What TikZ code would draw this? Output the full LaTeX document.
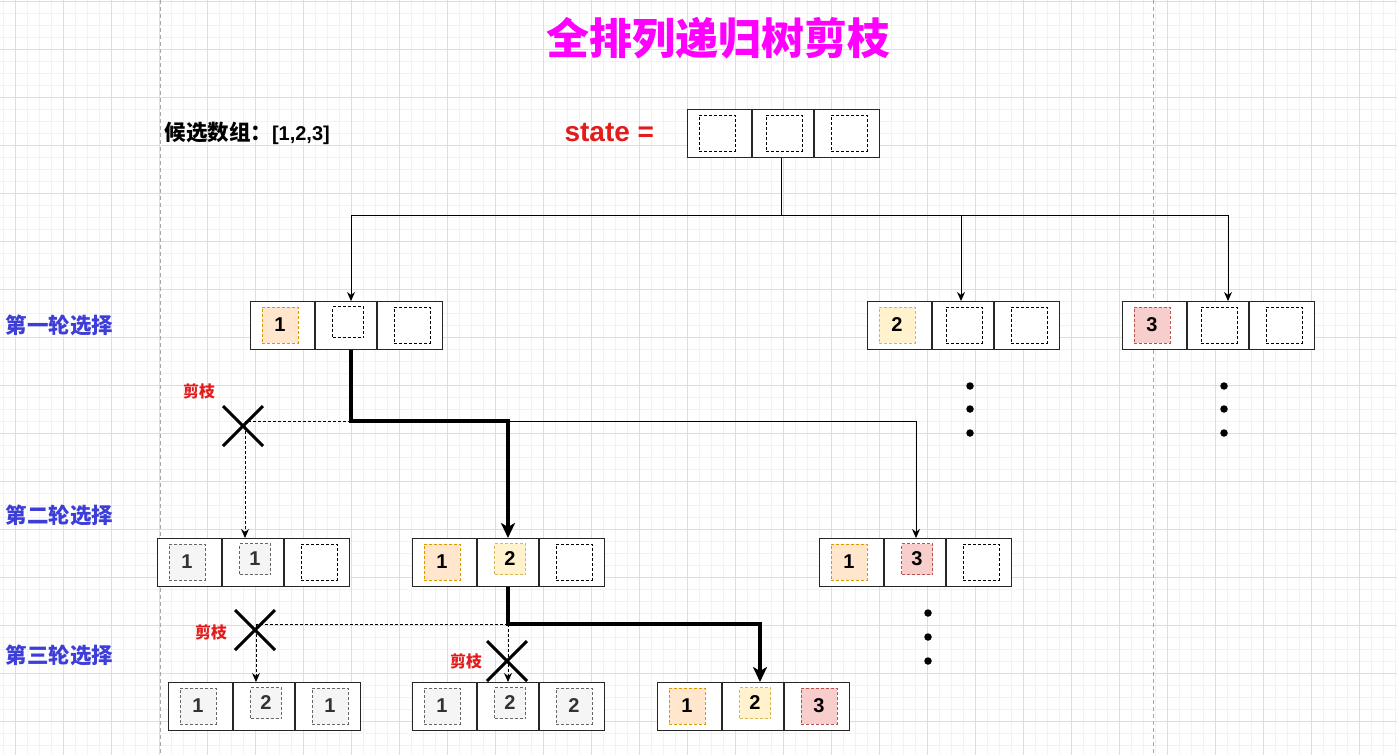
\documentclass[tikz,border=0pt]{standalone}
\usepackage{fontspec}
\setmainfont{Liberation Sans}
\newfontfamily\cjk{Noto Sans CJK SC}
\usetikzlibrary{arrows.meta,calc,shapes.misc}
\definecolor{oF}{HTML}{FFE6CC}\definecolor{oD}{HTML}{D79B00}
\definecolor{yF}{HTML}{FFF2CC}\definecolor{yD}{HTML}{D6B656}
\definecolor{rF}{HTML}{F8CECC}\definecolor{rD}{HTML}{B85450}
\definecolor{gF}{HTML}{F5F5F5}\definecolor{gD}{HTML}{666666}\definecolor{gT}{HTML}{333333}
\definecolor{titleM}{HTML}{FF00FF}
\definecolor{rowB}{HTML}{3D3DD8}
\definecolor{cutR}{HTML}{E31B1B}
\definecolor{gridMaj}{HTML}{DEDEDE}
\definecolor{gridMin}{HTML}{F2F2F2}
\definecolor{pageL}{HTML}{A8A8A8}
\tikzset{
 boxline/.style={line width=1.2pt, draw=black!85},
 outerbox/.style={boxline, minimum width=192pt, minimum height=48pt, inner sep=0pt, fill=white, anchor=north west},
 sq/.style={minimum size=36pt, inner sep=0pt, dash pattern=on 3pt off 2pt, line width=1pt, font=\fontsize{20}{20}\selectfont\bfseries},
 sqsmall/.style={minimum size=31pt},
 sqE/.style={draw=black},
 sqO/.style={draw=oD, fill=oF},
 sqY/.style={draw=yD, fill=yF},
 sqR/.style={draw=rD, fill=rF},
 sqG/.style={draw=gD, fill=gF, text=gT},
 conn/.style={line width=1pt, draw=black},
 dconn/.style={line width=1pt, draw=black, dash pattern=on 3pt off 2pt},
 tipS/.style={-{Stealth[length=9pt,width=8pt]}},
 thickp/.style={line width=3.2pt, draw=black, -{Stealth[length=15pt,width=14pt,inset=4pt]}},
 xmark/.style={cross out, draw=black, line width=3pt, minimum size=37pt, inner sep=0pt},
 rowlab/.style={font=\cjk\bfseries\fontsize{21.5}{21.5}\selectfont, text=rowB, anchor=west},
 cutlab/.style={font=\cjk\bfseries\fontsize{16}{16}\selectfont, text=cutR},
 dotm/.style={circle, fill=black, minimum size=7.5pt, inner sep=0pt},
}
\newcommand\tribox[3]{%
 \node[outerbox] (#1) at (#2,#3) {};
 \draw[boxline] ($(#1.north west)+(65,0)$) -- ($(#1.south west)+(65,0)$);
 \draw[boxline] ($(#1.north west)+(127,0)$) -- ($(#1.south west)+(127,0)$);
}
% cell squares: name, box, style, text
\newcommand\cA[4]{\node[sq,#3] (#1) at ($(#2.north west)+(30,24)$) {#4};}
\newcommand\cB[4]{\node[sq,#3] (#1) at ($(#2.north west)+(97,24)$) {#4};}
\newcommand\cBs[4]{\node[sq,sqsmall,#3] (#1) at ($(#2.north west)+(98,21)$) {#4};}
\newcommand\cC[4]{\node[sq,#3] (#1) at ($(#2.north west)+(162,24)$) {#4};}
\begin{document}
\begin{tikzpicture}[x=1pt,y=-1pt]
\useasboundingbox (0,0) rectangle (1397,755);
\fill[white] (0,0) rectangle (1397,755);
% grid
\foreach \i in {0,...,116} \draw[gridMin,line width=0.6pt] ({3.7+12*\i},0) -- ({3.7+12*\i},755);
\foreach \i in {0,...,63} \draw[gridMin,line width=0.6pt] (0,{1+12*\i}) -- (1397,{1+12*\i});
\foreach \i in {0,...,28} \draw[gridMaj,line width=0.8pt] ({15.7+48*\i},0) -- ({15.7+48*\i},755);
\foreach \i in {0,...,15} \draw[gridMaj,line width=0.8pt] (0,{1+48*\i}) -- (1397,{1+48*\i});
\draw[pageL,line width=0.8pt,dash pattern=on 4pt off 3pt] (160,0) -- (160,755);
\draw[pageL,line width=0.8pt,dash pattern=on 4pt off 3pt] (1153,0) -- (1153,755);

% texts
\node[font=\cjk\bfseries\fontsize{43}{43}\selectfont, text=titleM] (title) at (718,38) {全排列递归树剪枝};
\node[anchor=west, font=\bfseries\fontsize{20}{20}\selectfont] (cand) at (161,133) {{\cjk\fontsize{21.5}{21.5}\selectfont 候选数组：}[1,2,3]};
\node[anchor=west, font=\bfseries\fontsize{28}{28}\selectfont, text=cutR] (stlab) at (561,133) {state =};
\node[rowlab] (r1) at (2,325) {第一轮选择};
\node[rowlab] (r2) at (2,515) {第二轮选择};
\node[rowlab] (r3) at (2,655) {第三轮选择};
\node[cutlab] (cut1) at (199,391) {剪枝};
\node[cutlab] (cut2) at (211,632) {剪枝};
\node[cutlab] (cut3) at (466,661) {剪枝};

% coordinates for connectors
\coordinate (t0) at (781,215);
\coordinate (tA) at (351,215);
\coordinate (tB) at (961,215);
\coordinate (tC) at (1228,215);
\coordinate (k0) at (351,421);
\coordinate (kE) at (508,421);
\coordinate (kF) at (916,421);
\coordinate (kD) at (245,421);
\coordinate (m0) at (508,624);
\coordinate (mI) at (760,624);
\coordinate (mG) at (256,624);

% boxes
\tribox{S}{687}{109}
\tribox{A}{250}{301}
\tribox{B}{867}{301}
\tribox{C}{1122}{301}
\tribox{D}{157}{538}
\tribox{E}{412}{538}
\tribox{F}{819}{538}
\tribox{G}{168}{682}
\tribox{H}{412}{682}
\tribox{I}{657}{682}

\cA{S1}{S}{sqE}{}\cB{S2}{S}{sqE}{}\cC{S3}{S}{sqE}{}
\cA{A1}{A}{sqO}{1}\cBs{A2}{A}{sqE}{}\cC{A3}{A}{sqE}{}
\cA{B1}{B}{sqY}{2}\cB{B2}{B}{sqE}{}\cC{B3}{B}{sqE}{}
\cA{C1}{C}{sqR}{3}\cB{C2}{C}{sqE}{}\cC{C3}{C}{sqE}{}
\cA{D1}{D}{sqG}{1}\cBs{D2}{D}{sqG}{1}\cC{D3}{D}{sqE}{}
\cA{E1}{E}{sqO}{1}\cBs{E2}{E}{sqY}{2}\cC{E3}{E}{sqE}{}
\cA{F1}{F}{sqO}{1}\cBs{F2}{F}{sqR}{3}\cC{F3}{F}{sqE}{}
\cA{G1}{G}{sqG}{1}\cBs{G2}{G}{sqG}{2}\cC{G3}{G}{sqG}{1}
\cA{H1}{H}{sqG}{1}\cBs{H2}{H}{sqG}{2}\cC{H3}{H}{sqG}{2}
\cA{I1}{I}{sqO}{1}\cBs{I2}{I}{sqY}{2}\cC{I3}{I}{sqR}{3}

% tree connectors from state
\draw[conn] (t0 |- S.south) -- (t0);
\draw[conn] (tA) -- (tC);
\draw[conn,tipS] (tA) -- (tA |- A.north);
\draw[conn,tipS] (tB) -- (tB |- B.north);
\draw[conn,tipS] (tC) -- (tC |- C.north);

% round 1 -> round 2
\draw[conn,tipS] (kE) -- (kF) -- (kF |- F.north);
\draw[dconn] (k0) -- (kD);
\draw[dconn,tipS] (kD) -- (kD |- D.north);
\draw[thickp] (k0 |- A.south) -- (k0) -- (kE) -- (kE |- E.north);

% round 2 -> round 3
\draw[dconn] (m0) -- (mG);
\draw[dconn,tipS] (mG) -- (mG |- G.north);
\draw[dconn,tipS] (m0) -- (m0 |- H.north);
\draw[thickp] (m0 |- E.south) -- (m0) -- (mI) -- (mI |- I.north);

% prune marks
\node[xmark] (x1) at (243,426) {};
\node[xmark] (x2) at (255,630) {};
\node[xmark] (x3) at (507,661) {};

% ellipsis dots
\node[dotm] (dB1) at (970,386) {};
\node[dotm] (dB2) at (970,409) {};
\node[dotm] (dB3) at (970,433) {};
\node[dotm] (dC1) at (1224,386) {};
\node[dotm] (dC2) at (1224,409) {};
\node[dotm] (dC3) at (1224,433) {};
\node[dotm] (dF1) at (928,613) {};
\node[dotm] (dF2) at (928,637) {};
\node[dotm] (dF3) at (928,661) {};
\end{tikzpicture}
\end{document}
